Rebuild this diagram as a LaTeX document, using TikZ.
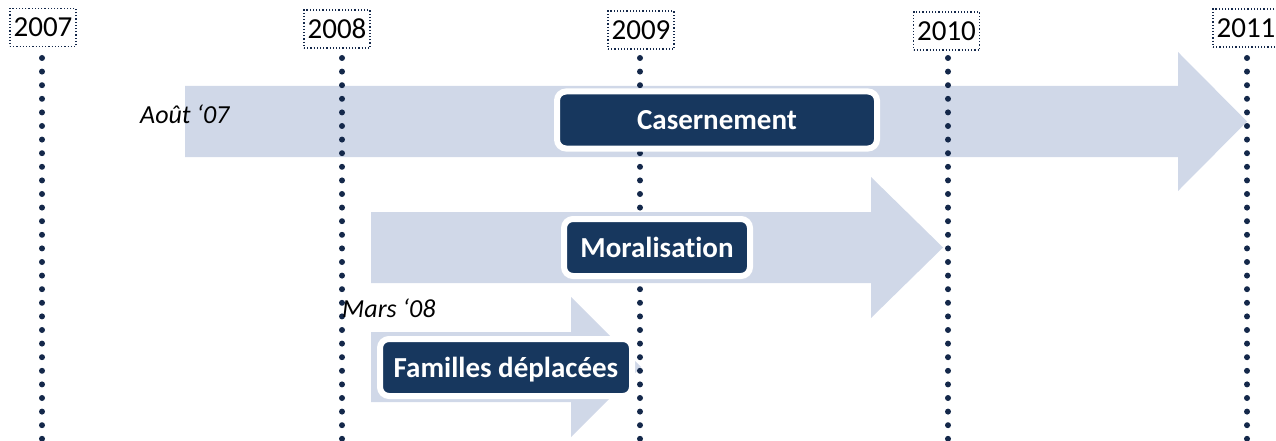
\documentclass[tikz,border=0pt]{standalone}
\usepackage{fontspec}
\setmainfont[Ligatures=NoCommon]{Carlito}
\definecolor{navy}{HTML}{17375E}
\definecolor{dotc}{HTML}{14284A}
\definecolor{arrowc}{HTML}{D0D8E8}
\begin{document}
\begin{tikzpicture}[x=1pt,y=-1pt,
  year/.style={draw=dotc, dotted, line width=1.2pt, minimum width=66pt, minimum height=38pt, inner sep=0pt, text height=18.5pt, text depth=0pt, font=\fontsize{29}{31}\selectfont},
  tline/.style={draw=dotc, line width=6pt, line cap=round, dash pattern=on 0pt off 13.6pt},
  bar/.style={fill=arrowc},
  task/.style={fill=navy, draw=white, line width=6pt, rounded corners=9pt, text=white, inner sep=0pt, minimum height=57pt, text height=19pt, text depth=0pt, font=\bfseries\fontsize{29}{31}\selectfont},
  lbl/.style={font=\itshape\fontsize{26}{28}\selectfont, inner sep=0pt}]
\useasboundingbox (0,0) rectangle (1276,441);
% arrows
\fill[bar] (185,86) -- (1178,86) -- (1178,52) -- (1247,121.5) -- (1178,191) -- (1178,157) -- (185,157) -- cycle;
\fill[bar] (371,212) -- (871,212) -- (871,177) -- (943,247.5) -- (871,318) -- (871,283) -- (371,283) -- cycle;
\fill[bar] (371,332) -- (571,332) -- (571,297) -- (641,367) -- (571,437) -- (571,402) -- (371,402) -- cycle;
% year labels
\node[year] (y07) at (43,27.5) {2007};
\node[year] (y08) at (337,29) {2008};
\node[year] (y09) at (641,30) {2009};
\node[year] (y10) at (946.5,31) {2010};
\node[year] (y11) at (1246,28) {2011};
% timeline coordinates
\foreach \n/\x in {07/42,08/342,09/640,10/948,11/1247}{
  \coordinate (t\n) at (\x,58);
  \coordinate (b\n) at (\x,445);
}
\foreach \n in {07,08,09,10,11}{
  \draw[tline] (t\n) -- (b\n);
}
% tasks
\node[task, minimum width=320pt] (cas) at (717,120) {Casernement};
\node[task, minimum width=186pt] (mor) at (657,247.5) {Moralisation};
\node[task, minimum width=252pt] (fam) at (506,367.5) {Familles déplacées};
% date labels
\node[lbl, anchor=base west] (aout) at (140,124) {Août ‘07};
\node[lbl, anchor=base west] (mars) at (342,317) {Mars ‘08};
\end{tikzpicture}
\end{document}
